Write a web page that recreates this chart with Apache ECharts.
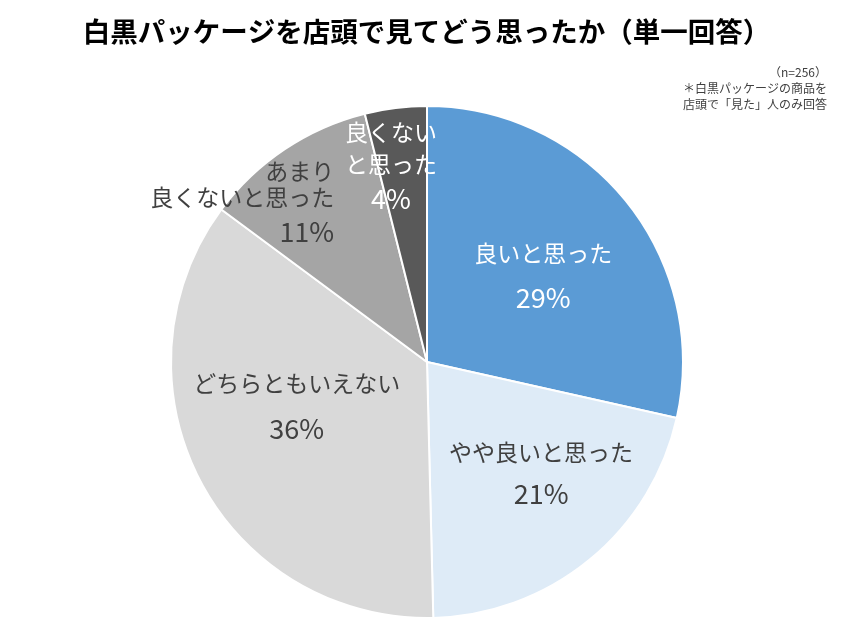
<!DOCTYPE html>
<html>
<head>
<meta charset="utf-8">
<script src="https://cdn.jsdelivr.net/npm/echarts@6/dist/echarts.min.js"></script>
<style>
  html, body { margin: 0; padding: 0; background: #fff; }
  #chart { width: 853px; height: 640px; }
</style>
</head>
<body>
<div id="chart"></div>
<script>
// 回答カテゴリ（時計回り、上から）
var names = ['良いと思った', 'やや良いと思った', 'どちらともいえない', 'あまり\n良くないと思った', '良くない\nと思った'];
// 回答数 (n=256)
var counts = [73, 54, 91, 28, 10];
// ラベルに表示する割合
var pctLabels = ['29%', '21%', '36%', '11%', '4%'];

var colors = ['#5B9BD5', '#DEEBF7', '#D9D9D9', '#A5A5A5', '#595959'];
var textColors = ['#ffffff', '#404040', '#404040', '#404040', '#ffffff'];
// label nudges from the default inside position
var labelShift = [[14, 3], [31, 15], [-14, -9], [-112, -47], [-20, -65]];
// [name line height, percent line height, line align]
var labelLines = [[30, 60, 'center'], [30, 52, 'center'], [30, 60, 'center'], [26, 44, 'right'], [32, 38, 'center']];

var FONT = '"Noto Sans CJK JP", "Noto Sans", sans-serif';

var myChart = echarts.init(document.getElementById('chart'));

var seriesData = [];
for (var i = 0; i < names.length; i++) {
    var ll = labelLines[i];
    seriesData.push({
        name: names[i],
        value: counts[i],
        itemStyle: { color: colors[i] },
        label: {
            formatter: '{n|' + names[i].split('\n').join('}\n{n|') + '}\n{p|' + pctLabels[i] + '}',
            rich: {
                n: { color: textColors[i], fontSize: 23, lineHeight: ll[0], fontFamily: FONT, align: ll[2] },
                p: { color: textColors[i], fontSize: 27, lineHeight: ll[1], fontFamily: FONT, align: ll[2] }
            }
        }
    });
}

var option = {
    animation: false,
    title: {
        text: '白黒パッケージを店頭で見てどう思ったか（単一回答）',
        left: 'center',
        top: 13,
        textStyle: { fontSize: 27.5, fontWeight: 'bold', color: '#000', fontFamily: FONT }
    },
    graphic: [{
        type: 'text',
        right: 26,
        top: 64,
        style: {
            text: '（n=256）\n＊白黒パッケージの商品を\n店頭で「見た」人のみ回答',
            textAlign: 'right',
            fill: '#404040',
            fontSize: 12,
            lineHeight: 16,
            fontFamily: FONT
        }
    }],
    series: [{
        type: 'pie',
        center: [427, 362],
        radius: [0, 256],
        startAngle: 90,
        clockwise: true,
        data: seriesData,
        itemStyle: { borderColor: '#ffffff', borderWidth: 2 },
        label: { show: true, position: 'inside', align: 'center' },
        labelLine: { show: false },
        labelLayout: function (params) {
            var s = labelShift[params.dataIndex];
            return { dx: s[0], dy: s[1] };
        },
        emphasis: { disabled: true }
    }]
};

myChart.setOption(option);
</script>
</body>
</html>
